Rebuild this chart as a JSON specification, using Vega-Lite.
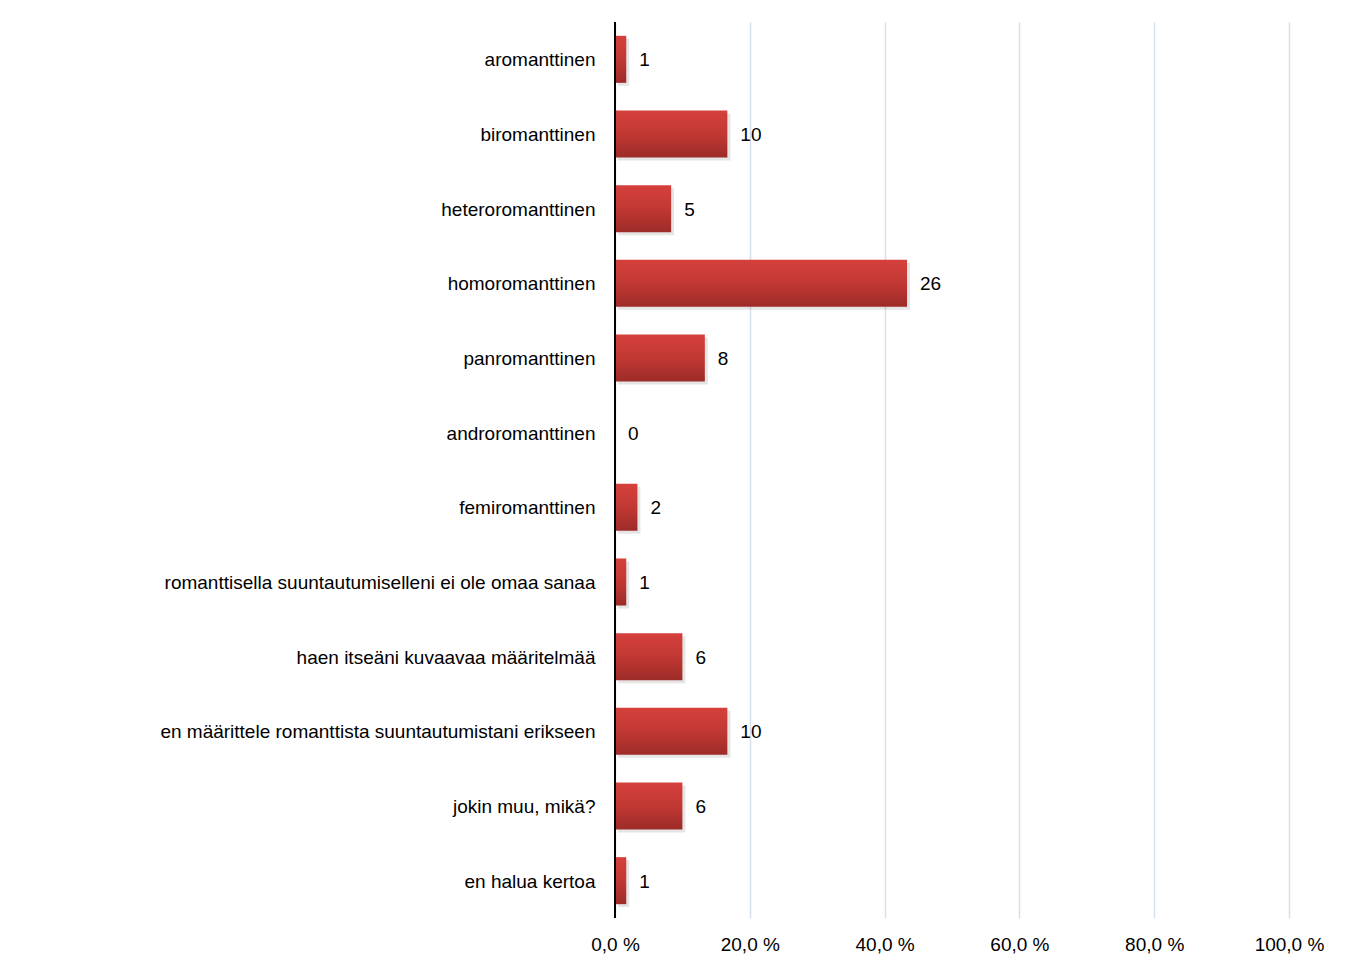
{
  "$schema": "https://vega.github.io/schema/vega-lite/v6.json",
  "autosize": "none",
  "width": 674,
  "height": 896,
  "padding": {"left": 615, "top": 22, "right": 61, "bottom": 50},
  "background": "white",
  "data": {
    "values": [
      {"category": "aromanttinen", "pct": 1.67, "count": 1},
      {"category": "biromanttinen", "pct": 16.67, "count": 10},
      {"category": "heteroromanttinen", "pct": 8.33, "count": 5},
      {"category": "homoromanttinen", "pct": 43.33, "count": 26},
      {"category": "panromanttinen", "pct": 13.33, "count": 8},
      {"category": "androromanttinen", "pct": 0, "count": 0},
      {"category": "femiromanttinen", "pct": 3.33, "count": 2},
      {"category": "romanttisella suuntautumiselleni ei ole omaa sanaa", "pct": 1.67, "count": 1},
      {"category": "haen itseäni kuvaavaa määritelmää", "pct": 10, "count": 6},
      {"category": "en määrittele romanttista suuntautumistani erikseen", "pct": 16.67, "count": 10},
      {"category": "jokin muu, mikä?", "pct": 10, "count": 6},
      {"category": "en halua kertoa", "pct": 1.67, "count": 1}
    ]
  },
  "encoding": {
    "y": {
      "field": "category",
      "type": "nominal",
      "sort": null,
      "scale": {"paddingInner": 0.37, "paddingOuter": 0.185},
      "axis": {
        "title": null,
        "ticks": false,
        "domain": false,
        "labelFont": "Liberation Sans",
        "labelFontSize": 19,
        "labelColor": "#000000",
        "labelPadding": 20,
        "labelOffset": 1,
        "labelLimit": 700
      }
    },
    "x": {
      "field": "pct",
      "type": "quantitative",
      "scale": {"domain": [0, 100], "nice": false},
      "axis": {
        "title": null,
        "values": [0, 20, 40, 60, 80, 100],
        "labelExpr": "replace(format(datum.value, '.1f'), '.', ',') + ' %'",
        "labelFlush": false,
        "labelOverlap": false,
        "domain": false,
        "ticks": false,
        "grid": true,
        "gridColor": "#d6e0eb",
        "gridWidth": 1.5,
        "labelFont": "Liberation Sans",
        "labelFontSize": 19,
        "labelColor": "#000000",
        "labelPadding": 17
      }
    }
  },
  "layer": [
    {
      "mark": {"type": "bar", "color": "#000000", "opacity": 0.1, "xOffset": 3, "yOffset": 3}
    },
    {
      "mark": {
        "type": "bar",
        "color": {
          "gradient": "linear",
          "x1": 0, "y1": 0, "x2": 0, "y2": 1,
          "stops": [
            {"offset": 0, "color": "#d5403c"},
            {"offset": 0.5, "color": "#c13833"},
            {"offset": 1, "color": "#9d2b28"}
          ]
        }
      }
    },
    {
      "mark": {"type": "rule", "color": "#000000", "strokeWidth": 2},
      "encoding": {
        "x": {"datum": 0, "type": "quantitative"},
        "y": null
      }
    },
    {
      "mark": {
        "type": "text",
        "align": "left",
        "baseline": "middle",
        "dx": 13,
        "dy": 1,
        "font": "Liberation Sans",
        "fontSize": 19,
        "color": "#000000"
      },
      "encoding": {
        "text": {"field": "count", "type": "quantitative"}
      }
    }
  ],
  "config": {"view": {"stroke": null}}
}
